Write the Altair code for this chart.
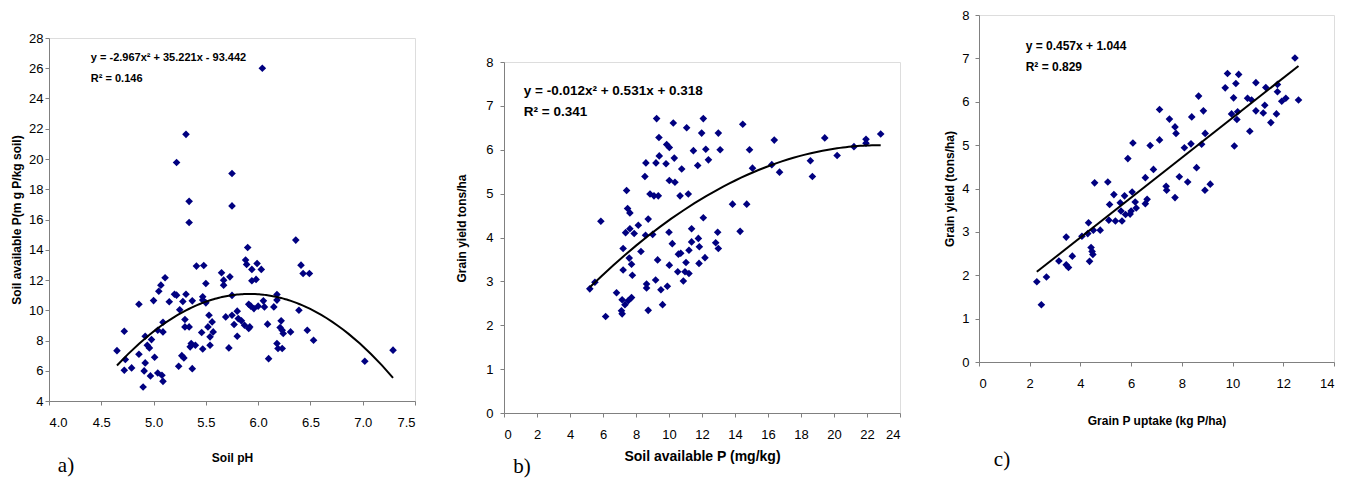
import altair as alt
import pandas as pd

# ---------------- Panel a: soil pH vs soil available P ----------------
ph = [4.65, 4.72, 4.73, 4.72, 4.79, 4.86, 4.86, 4.90, 4.91, 4.92, 4.92, 4.94, 4.96, 4.97,
      4.98, 5.00, 5.01, 5.04, 5.04, 5.05, 5.07, 5.08, 5.09, 5.09, 5.09, 5.11, 5.15, 5.20,
      5.22, 5.24, 5.25, 5.27, 5.28, 5.29, 5.30, 5.30, 5.31, 5.34, 5.35, 5.36, 5.37, 5.37,
      5.40, 5.41, 5.46, 5.47, 5.47, 5.47, 5.48, 5.50, 5.50, 5.52, 5.53, 5.54, 5.54, 5.56,
      5.57, 5.65, 5.67, 5.67, 5.69, 5.72, 5.73, 5.75, 5.75, 5.77, 5.80, 5.80, 5.81, 5.84,
      5.87, 5.88, 5.89, 5.90, 5.91, 5.91, 5.92, 5.93, 5.94, 5.94, 5.96, 5.98, 5.99, 6.00,
      6.03, 6.05, 6.06, 6.09, 6.10, 6.15, 6.18, 6.18, 6.18, 6.19, 6.21, 6.22, 6.23, 6.23,
      6.24, 6.31, 6.36, 6.39, 6.41, 6.43, 6.47, 6.49, 6.53,
      6.04, 5.31, 5.22, 5.75, 5.34, 5.75, 5.34, 7.02, 7.29]
soil_p = [7.33, 8.61, 6.74, 6.03, 6.19, 10.40, 7.09, 4.93, 5.99, 6.52, 8.28, 7.69, 7.51, 5.66,
          8.06, 10.64, 6.89, 8.68, 5.85, 11.26, 11.66, 5.70, 5.30, 9.21, 8.57, 12.15, 10.56, 11.06,
          11.00, 6.30, 10.03, 7.00, 10.58, 6.85, 9.39, 8.90, 11.06, 8.90, 7.58, 7.80, 10.62, 6.14,
          7.69, 12.92, 8.53, 10.89, 10.67, 7.44, 12.96, 11.77, 10.49, 8.90, 9.67, 7.69, 8.24, 9.23,
          8.57, 12.48, 11.99, 11.66, 9.56, 7.51, 12.21, 10.98, 9.67, 9.06, 9.94, 8.28, 9.45, 9.30,
          9.01, 13.32, 13.03, 14.15, 10.40, 8.79, 8.90, 10.27, 12.70, 11.95, 10.11, 12.04, 13.09, 10.27,
          12.70, 10.62, 10.22, 9.08, 6.80, 10.22, 11.04, 10.67, 7.80, 7.47, 8.86, 9.30, 8.68, 7.47,
          8.46, 8.57, 14.64, 10.00, 12.98, 12.43, 8.68, 12.43, 8.02,
          26.00, 21.63, 19.77, 19.04, 17.20, 16.90, 15.80, 6.63, 7.36]

# ---------------- Panel b: soil available P vs grain yield ----------------
avail_p = [5.20, 5.51, 5.87, 6.16, 6.82, 7.16, 7.16, 7.33, 7.53, 7.73, 7.12, 7.22, 7.22, 7.43,
           7.49, 7.63, 7.37, 7.63, 7.89, 7.59, 7.73, 7.78, 8.14, 8.30, 8.54, 8.60, 8.58, 8.74,
           8.64, 8.64, 8.74, 8.85, 9.01, 9.09, 9.21, 9.25, 9.39, 9.41, 9.35, 9.31, 9.19, 9.51,
           9.61, 9.86, 10.02, 9.82, 10.02, 10.36, 10.32, 9.90, 10.00, 10.02, 10.20, 10.26, 10.77, 10.67,
           10.53, 10.57, 10.71, 10.87, 10.97, 11.03, 11.07, 11.17, 11.21, 11.21, 11.37, 11.48, 11.37, 11.74,
           11.78, 11.82, 11.84, 11.98, 12.08, 12.23, 12.08, 12.18, 12.39, 12.83, 12.95, 12.99, 12.99, 13.10,
           13.85, 14.31, 14.47, 14.71, 14.88, 15.06, 16.23, 16.38, 16.70,
           18.57, 18.69, 19.44, 20.19, 21.21, 21.94, 21.94, 22.83]
yield_b = [2.83, 2.98, 4.37, 2.20, 2.74, 2.58, 2.26, 2.47, 2.56, 2.63, 2.33, 3.75, 3.26, 5.07,
           4.66, 4.56, 4.11, 4.20, 4.09, 3.53, 3.39, 3.14, 4.28, 3.68, 5.39, 5.70, 4.05, 4.42,
           2.94, 2.85, 2.34, 4.99, 4.07, 4.95, 5.70, 6.71, 6.28, 5.86, 4.95, 3.49, 3.03, 2.81,
           2.47, 6.12, 6.05, 5.68, 5.30, 5.26, 5.81, 2.89, 4.12, 3.37, 3.86, 6.61, 5.56, 4.95,
           3.22, 3.62, 3.64, 3.01, 3.22, 3.43, 6.50, 4.99, 3.71, 3.18, 4.20, 5.98, 3.90, 5.64,
           3.98, 3.41, 3.79, 6.38, 6.71, 6.01, 4.45, 3.54, 5.77, 3.88, 4.12, 6.38, 3.75, 6.00,
           4.76, 4.14, 6.58, 4.76, 6.00, 5.58, 5.66, 6.22, 5.49,
           5.75, 5.39, 6.27, 5.87, 6.07, 6.24, 6.15, 6.36]

# ---------------- Panel c: grain P uptake vs grain yield ----------------
uptake = [2.28, 2.46, 2.66, 3.15, 3.44, 3.44, 3.53, 3.68, 4.06, 4.32, 4.29, 4.36, 4.42, 4.46,
          4.49, 4.51, 4.56, 4.78, 5.08, 5.12, 5.15, 5.32, 5.38, 5.57, 5.60, 5.64, 5.74, 5.78,
          5.87, 5.96, 6.00, 6.04, 6.07, 6.16, 6.20, 6.56, 6.63, 6.56, 6.75, 6.88, 7.12, 7.12,
          7.38, 7.40, 7.51, 7.73, 7.77, 7.73, 7.90, 8.10, 8.23, 8.36, 8.39, 8.58, 8.66, 8.78,
          8.85, 8.92, 8.91, 9.12, 9.71, 9.80, 9.96, 10.04, 10.07, 10.13, 10.17, 10.20, 10.24, 10.59,
          10.68, 10.75, 10.92, 10.92, 11.21, 11.27, 11.31, 11.51, 11.73, 11.77, 11.77, 11.94, 12.10, 12.46,
          12.60]
yield_c = [1.85, 1.32, 1.96, 2.33, 2.88, 2.24, 2.18, 2.44, 2.90, 3.21, 2.96, 2.32, 2.64, 2.55,
           2.48, 3.04, 4.13, 3.04, 4.15, 3.27, 3.63, 3.86, 3.25, 3.67, 3.48, 3.25, 3.83, 3.40,
           4.69, 3.41, 3.48, 3.92, 5.05, 3.69, 3.55, 3.65, 3.75, 4.25, 4.99, 4.44, 5.82, 5.12,
           4.05, 3.96, 5.60, 5.42, 5.27, 3.79, 4.27, 4.94, 4.15, 5.03, 5.65, 4.48, 6.13, 5.02,
           5.79, 5.27, 3.96, 4.10, 6.32, 6.65, 5.72, 6.09, 4.98, 6.42, 5.59, 5.77, 6.63, 6.08,
           5.32, 6.04, 6.44, 5.79, 5.74, 5.92, 6.33, 5.52, 5.72, 6.40, 6.23, 6.01, 6.08, 7.01,
           6.04]

# tick values
ticks_a_x = [4.0, 4.5, 5.0, 5.5, 6.0, 6.5, 7.0, 7.5]
ticks_a_y = [4, 6, 8, 10, 12, 14, 16, 18, 20, 22, 24, 26, 28]
ticks_b_x = [0, 2, 4, 6, 8, 10, 12, 14, 16, 18, 20, 22, 24]
ticks_b_y = [0, 1, 2, 3, 4, 5, 6, 7, 8]
ticks_c_x = [0, 2, 4, 6, 8, 10, 12, 14]
ticks_c_y = [0, 1, 2, 3, 4, 5, 6, 7, 8]

eq_a = ["y = -2.967x² + 35.221x - 93.442", "R² = 0.146"]
eq_b = ["y = -0.012x² + 0.531x + 0.318", "R² = 0.341"]
eq_c = ["y = 0.457x + 1.044", "R² = 0.829"]

ARIAL = "Liberation Sans, Arial, sans-serif"
NARROW = "Liberation Sans Narrow, Arial Narrow, Liberation Sans, Arial, sans-serif"
SERIF = "Liberation Serif, Times New Roman, serif"
NAVY = "#000080"
AXIS_GRAY = "#808080"


def make_axis(values, title, fmt=None, title_font=NARROW, title_size=12,
              label_pad=11, title_pad=23, title_weight="bold", title_y=None):
    kw = dict(values=values, title=title, grid=False, domainColor=AXIS_GRAY,
              tickColor=AXIS_GRAY, tickSize=4, labelFont=ARIAL, labelFontSize=13,
              labelColor="black", labelPadding=label_pad, titleFont=title_font,
              titleFontSize=title_size, titleFontWeight=title_weight, titleColor="black",
              titlePadding=title_pad, labelOverlap=False)
    if fmt:
        kw["format"] = fmt
    if title_y is not None:
        kw["titleY"] = title_y
    return alt.Axis(**kw)


def panel(xs, ys, xdom, ydom, xaxis, yaxis, eq, eq_x, eq_y1, eq_y2, eq_size, order,
          tag, tag_x, tag_y, w, h):
    df = pd.DataFrame({"x": xs, "y": ys})
    xsc = alt.Scale(domain=xdom, nice=False, zero=False)
    ysc = alt.Scale(domain=ydom, nice=False, zero=False)
    X = alt.X("x:Q", scale=xsc, axis=xaxis)
    Y = alt.Y("y:Q", scale=ysc, axis=yaxis)
    base = alt.Chart(df)
    pts = base.mark_point(shape="diamond", filled=True, size=58, color=NAVY,
                          opacity=1).encode(x=X, y=Y)
    if order == 1:
        reg = base.transform_regression("x", "y", method="linear")
    else:
        reg = base.transform_regression("x", "y", method="poly", order=order)
    line = reg.mark_line(color="black", strokeWidth=2).encode(x=X, y=Y)
    one = pd.DataFrame({"k": [0]})
    eq_layers = []
    for txt, yy in ((eq[0], eq_y1), (eq[1], eq_y2)):
        eq_layers.append(
            alt.Chart(one).mark_text(align="left", baseline="middle", font=NARROW,
                                     fontWeight="bold", fontSize=eq_size,
                                     color="black").encode(
                x=alt.X(datum=eq_x, type="quantitative", scale=xsc, axis=xaxis),
                y=alt.Y(datum=yy, type="quantitative", scale=ysc, axis=yaxis),
                text=alt.value(txt)))
    lab = alt.Chart(one).mark_text(align="center", baseline="middle", font=SERIF,
                                   fontSize=21, color="black").encode(
        x=alt.value(tag_x), y=alt.value(tag_y), text=alt.value(tag))
    return alt.layer(pts, line, *eq_layers, lab).properties(width=w, height=h)


def spacer(hgt):
    d = pd.DataFrame({"v": [0]})
    return alt.Chart(d).mark_point(size=0, opacity=0).encode(
        x=alt.X("v:Q", axis=None), y=alt.Y("v:Q", axis=None)
    ).properties(width=1, height=hgt, view=alt.ViewBackground(stroke=None, strokeWidth=0))


pa = panel(ph, soil_p, [4.0, 7.5], [4, 28],
           make_axis(ticks_a_x, "Soil pH", fmt=".1f"),
           make_axis(ticks_a_y, "Soil available P(m g P/kg soil)", label_pad=2, title_pad=5),
           eq_a, 4.4, 26.68, 25.29, 11, 2, "a)", 17, 428, 366, 363)

pb = panel(avail_p, yield_b, [0, 24], [0, 8],
           make_axis(ticks_b_x, "Soil available P (mg/kg)", title_font=ARIAL, title_size=14,
                     title_pad=8),
           make_axis(ticks_b_y, "Grain yield tons/ha", label_pad=7, title_pad=17, title_y=166),
           eq_b, 1.2, 7.35, 6.85, 13.5, 2, "b)", 18, 405, 396, 351)

pc = panel(uptake, yield_c, [0, 14], [0, 8],
           make_axis(ticks_c_x, "Grain P uptake (kg P/ha)", title_pad=25),
           make_axis(ticks_c_y, "Grain yield (tons/ha)", label_pad=6, title_pad=5),
           eq_c, 1.84, 7.29, 6.79, 12, 1, "c)", 23, 445, 355, 347)

left = alt.hconcat(
    alt.vconcat(spacer(16), pa, spacing=0),
    alt.vconcat(spacer(40), pb, spacing=0),
    spacing=39,
)
chart = alt.hconcat(left, pc, spacing=42).properties(
    padding={"left": 2, "top": 0, "right": 0, "bottom": 0}
).configure_view(stroke=None, strokeWidth=0).configure(background="white")

chart.save("out.html", embed_options={"renderer": "svg", "actions": False})
